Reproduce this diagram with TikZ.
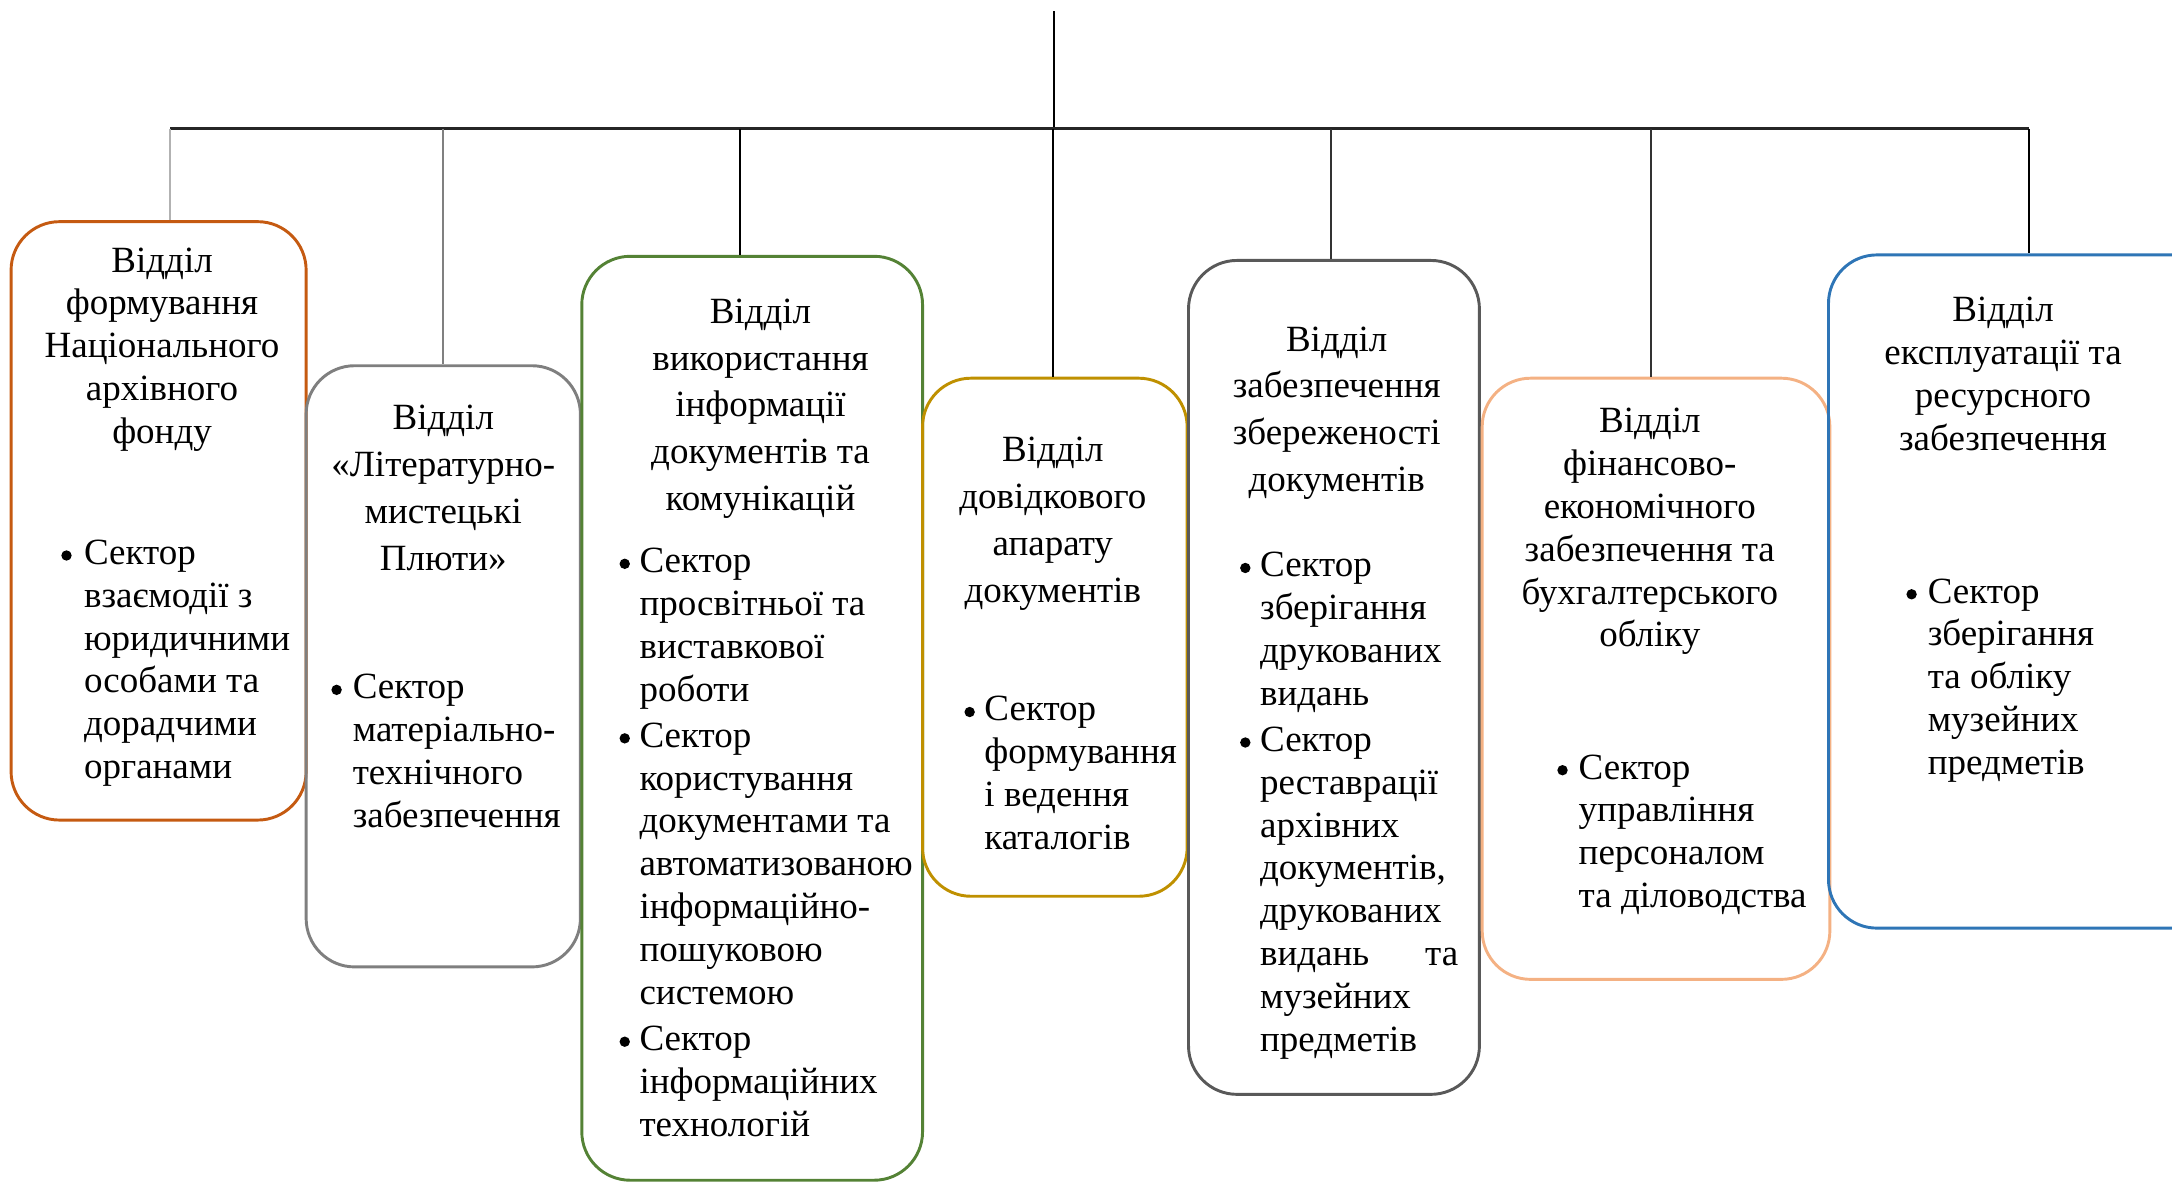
\documentclass[tikz,border=0pt]{standalone}
\usepackage{fontspec}
\setmainfont{Liberation Serif}
\definecolor{orangeline}{HTML}{C55A11}
\definecolor{grayline}{HTML}{7F7F7F}
\definecolor{greenline}{HTML}{548235}
\definecolor{goldline}{HTML}{BF9000}
\definecolor{darkline}{HTML}{595959}
\definecolor{peachline}{HTML}{F4B183}
\definecolor{blueline}{HTML}{2E75B6}

\begin{document}
\begin{tikzpicture}[
  box/.style={draw, line width=0.6pt, rounded corners=0.35cm, inner sep=0pt},
  title/.style={align=center, anchor=north, inner sep=0pt, font=\fontsize{7.6}{8.8}\selectfont},
  widetitle/.style={title, font=\fontsize{7.6}{9.6}\selectfont},
  sector/.style={align=left, anchor=north west, inner sep=0pt, font=\fontsize{7.6}{8.8}\selectfont},
  bul/.style={circle, fill, inner sep=0pt, minimum size=0.075cm},
  link/.style={line width=0.4pt}]
\useasboundingbox (0,0) rectangle (15.68,-8.53);
\clip (0,0) rectangle (15.68,-8.53);

\node[box, draw=orangeline, minimum width=2.13cm, minimum height=4.32cm] (d1) at (1.145,-3.76) {};
\node[box, draw=grayline, minimum width=1.98cm, minimum height=4.34cm] (d2) at (3.20,-4.81) {};
\node[box, draw=greenline, minimum width=2.46cm, minimum height=6.67cm] (d3) at (5.43,-5.185) {};
\node[box, draw=goldline, minimum width=1.91cm, minimum height=3.74cm] (d4) at (7.615,-4.60) {};
\node[box, draw=darkline, minimum width=2.10cm, minimum height=6.02cm] (d5) at (9.63,-4.89) {};
\node[box, draw=peachline, minimum width=2.51cm, minimum height=4.34cm] (d6) at (11.955,-4.90) {};
\node[box, draw=blueline, minimum width=2.90cm, minimum height=4.86cm] (d7) at (14.65,-4.27) {};

\coordinate (top) at (7.61,-0.08);
\coordinate (bus) at (7.61,-0.93);
\coordinate (j1) at (1.23,-0.93);
\coordinate (j2) at (3.20,-0.93);
\coordinate (j3) at (5.34,-0.93);
\coordinate (j4) at (7.60,-0.93);
\coordinate (j5) at (9.61,-0.93);
\coordinate (j6) at (11.92,-0.93);
\coordinate (j7) at (14.65,-0.93);
\draw[link] (top) -- (bus);
\draw[link, line width=0.6pt, draw=black!85] (j1) -- (j7);
\draw[link, draw=black!30] (j1) -- (j1 |- d1.north);
\draw[link, draw=black!50] (j2) -- (j2 |- d2.north);
\draw[link] (j3) -- (j3 |- d3.north);
\draw[link] (j4) -- (j4 |- d4.north);
\draw[link, draw=black!80] (j5) -- (j5 |- d5.north);
\draw[link, draw=black!80] (j6) -- (j6 |- d6.north);
\draw[link] (j7) -- (j7 |- d7.north);

\node[title] (t1) at (1.17,-1.78) {Відділ\\формування\\Національного\\архівного\\фонду};
\node[widetitle] (t2) at (3.20,-2.92) {Відділ\\«Літературно-\\мистецькі\\Плюти»};
\node[widetitle] (t3) at (5.49,-2.15) {Відділ\\використання\\інформації\\документів та\\комунікацій};
\node[widetitle] (t4) at (7.60,-3.15) {Відділ\\довідкового\\апарату\\документів};
\node[widetitle] (t5) at (9.65,-2.35) {Відділ\\забезпечення\\збереженості\\документів};
\node[title] (t6) at (11.91,-2.94) {Відділ\\фінансово-\\економічного\\забезпечення та\\бухгалтерського\\обліку};
\node[title] (t7) at (14.46,-2.14) {Відділ\\експлуатації та\\ресурсного\\забезпечення};

\node[sector] (s1) at (0.60,-3.89) {Сектор\\взаємодії з\\юридичними\\особами та\\дорадчими\\органами};
\node[bul] (b1) at (0.48,-4.01) {};
\node[sector] (s2) at (2.54,-4.86) {Сектор\\матеріально-\\технічного\\забезпечення};
\node[bul] (b2) at (2.43,-4.98) {};
\node[sector] (s3a) at (4.61,-3.95) {Сектор\\просвітньої та\\виставкової\\роботи};
\node[bul] (b3a) at (4.51,-4.07) {};
\node[sector] (s3b) at (4.61,-5.21) {Сектор\\користування\\документами та\\автоматизованою\\інформаційно-\\пошуковою\\системою};
\node[bul] (b3b) at (4.51,-5.33) {};
\node[sector] (s3c) at (4.61,-7.40) {Сектор\\інформаційних\\технологій};
\node[bul] (b3c) at (4.51,-7.52) {};
\node[sector] (s4) at (7.10,-5.02) {Сектор\\формування\\і ведення\\каталогів};
\node[bul] (b4) at (7.00,-5.14) {};
\node[sector] (s5a) at (9.09,-3.98) {Сектор\\зберігання\\друкованих\\видань};
\node[bul] (b5a) at (8.99,-4.10) {};
\node[sector] (s5b) at (9.09,-5.24) {Сектор\\реставрації\\архівних\\документів,\\друкованих\\\makebox[1.43cm][l]{видань\hfill та}\\музейних\\предметів};
\node[bul] (b5b) at (8.99,-5.36) {};
\node[sector] (s6) at (11.39,-5.44) {Сектор\\управління\\персоналом\\та діловодства};
\node[bul] (b6) at (11.28,-5.56) {};
\node[sector] (s7) at (13.91,-4.17) {Сектор\\зберігання\\та обліку\\музейних\\предметів};
\node[bul] (b7) at (13.80,-4.29) {};
\end{tikzpicture}
\end{document}
